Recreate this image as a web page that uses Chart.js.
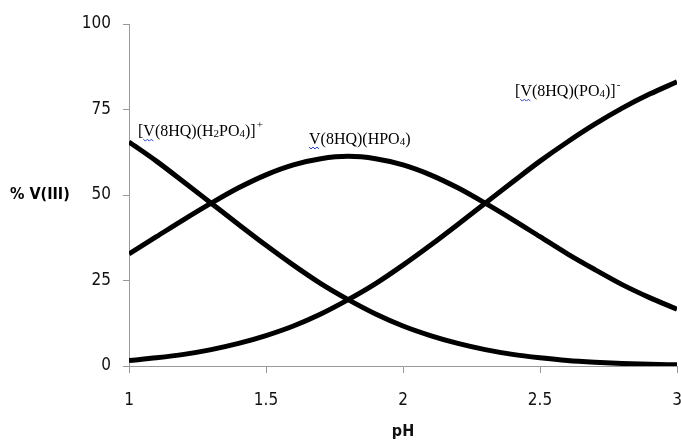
<!DOCTYPE html>
<html>
<head>
<meta charset="utf-8">
<script src="https://cdn.jsdelivr.net/npm/chart.js@4"></script>
<style>
  body { margin: 0; background: #fff; }
  #wrap { width: 681px; height: 445px; }
</style>
</head>
<body>
<div id="wrap"><canvas id="specChart"></canvas></div>
<script>
const pH = [1.0, 1.1, 1.2, 1.3, 1.4, 1.5, 1.6, 1.7, 1.8, 1.9, 2.0,
            2.1, 2.2, 2.3, 2.4, 2.5, 2.6, 2.7, 2.8, 2.9, 3.0];
const h2po4 = [65.5, 59.9, 53.8, 47.6, 41.4, 35.3, 29.5, 24.1, 19.4, 15.2, 11.7,
               8.9, 6.6, 4.8, 3.4, 2.4, 1.6, 1.1, 0.75, 0.5, 0.33];
const hpo4 = [32.8, 37.8, 42.8, 47.6, 52.1, 55.9, 58.8, 60.6, 61.3, 60.6, 58.8,
              55.9, 52.1, 47.6, 42.8, 37.8, 32.8, 28.2, 23.8, 20.0, 16.6];
const po4 = [1.6, 2.4, 3.4, 4.8, 6.6, 8.9, 11.7, 15.2, 19.4, 24.1, 29.5,
             35.3, 41.4, 47.6, 53.8, 59.9, 65.5, 70.7, 75.4, 79.5, 83.1];
const xTicks = [1, 1.5, 2, 2.5, 3];
const yTicks = [0, 25, 50, 75, 100];

// species labels: pieces of [text, kind] (0 normal, 1 subscript, 2 superscript), anchored at data coords
const speciesLabels = [
    {x: 1.033, y: 67.2, parts: [["[V(8HQ)(H", 0], ["2", 1], ["PO", 0], ["4", 1], [")]", 0], ["+", 2]]},
    {x: 1.657, y: 64.9, parts: [["V(8HQ)(HPO", 0], ["4", 1], [")", 0]]},
    {x: 2.409, y: 78.9, parts: [["[V(8HQ)(PO", 0], ["4", 1], [")]", 0], ["-", 2]]}
];

const tickFont = "'DejaVu Sans Condensed', 'DejaVu Sans'";

const toPoints = arr => arr.map((v, i) => ({x: pH[i], y: v}));

const lineStyle = {
    borderColor: "#000",
    borderWidth: 5,
    pointRadius: 0,
    fill: false,
    cubicInterpolationMode: "monotone"
};

const annotate = {
    id: "annotate",
    afterDraw(chart) {
        const ctx = chart.ctx;
        const xs = chart.scales.x, ys = chart.scales.y;
        ctx.save();
        ctx.fillStyle = "#000";
        ctx.textBaseline = "alphabetic";
        speciesLabels.forEach(lab => {
            let px = xs.getPixelForValue(lab.x);
            const py = ys.getPixelForValue(lab.y);
            const startX = px;
            lab.parts.forEach(([t, kind]) => {
                if (kind === 0) {
                    ctx.font = "16px 'Liberation Serif'";
                    ctx.fillText(t, px, py);
                } else if (kind === 1) {
                    ctx.font = "11px 'Liberation Serif'";
                    ctx.fillText(t, px, py + 1);
                } else {
                    ctx.font = "11px 'Liberation Serif'";
                    ctx.fillText(t, px + 1, py - 8);
                }
                px += ctx.measureText(t).width + (kind === 2 ? 1 : 0);
            });
            // spell-check squiggle under the "V"
            ctx.font = "16px 'Liberation Serif'";
            const off = lab.parts[0][0].startsWith("[") ? ctx.measureText("[").width : 0;
            const vw = ctx.measureText("V").width;
            ctx.strokeStyle = "#2a3fd0";
            ctx.lineWidth = 1;
            ctx.beginPath();
            for (let k = 0; k <= vw; k += 2) {
                const yy = py + 3 + (k % 4 === 0 ? 0 : 2);
                if (k === 0) ctx.moveTo(startX + off + k, yy); else ctx.lineTo(startX + off + k, yy);
            }
            ctx.stroke();
        });
        // unrotated y axis title
        ctx.font = "bold 16px " + tickFont;
        ctx.textAlign = "left";
        ctx.textBaseline = "middle";
        ctx.fillText("% V(III)", 10, ys.getPixelForValue(50));
        ctx.restore();
    }
};

const chart = new Chart(document.getElementById("specChart"), {
    type: "line",
    data: {
        datasets: [
            {label: "[V(8HQ)(H2PO4)]+", data: toPoints(h2po4), ...lineStyle},
            {label: "V(8HQ)(HPO4)", data: toPoints(hpo4), ...lineStyle},
            {label: "[V(8HQ)(PO4)]-", data: toPoints(po4), ...lineStyle}
        ]
    },
    options: {
        responsive: true,
        maintainAspectRatio: false,
        animation: false,
        layout: {padding: {top: 24, right: 4, left: 0, bottom: 0}},
        plugins: {legend: {display: false}, tooltip: {enabled: false}},
        scales: {
            x: {
                type: "linear",
                min: 1, max: 3,
                afterBuildTicks: s => { s.ticks = xTicks.map(v => ({value: v})); },
                afterFit: s => { s.height = 79; s.paddingLeft = 0; s.paddingRight = 0; },
                grid: {drawOnChartArea: false, drawTicks: true, tickLength: 7, color: "#999"},
                border: {color: "#999", width: 1},
                ticks: {
                    color: "#111", padding: 17,
                    callback: v => String(v),
                    font: {family: tickFont, size: 17}
                },
                title: {
                    display: true, text: "pH", color: "#111", padding: {top: 16},
                    font: {family: tickFont, size: 16, weight: "bold"}
                }
            },
            y: {
                min: 0, max: 100,
                afterBuildTicks: s => { s.ticks = yTicks.map(v => ({value: v})); },
                afterFit: s => { s.width = 129; },
                grid: {drawOnChartArea: false, drawTicks: true, tickLength: 6, color: "#999"},
                border: {color: "#999", width: 1},
                ticks: {
                    color: "#111", padding: 12,
                    font: {family: tickFont, size: 17}
                }
            }
        }
    },
    plugins: [annotate]
});
</script>
</body>
</html>
